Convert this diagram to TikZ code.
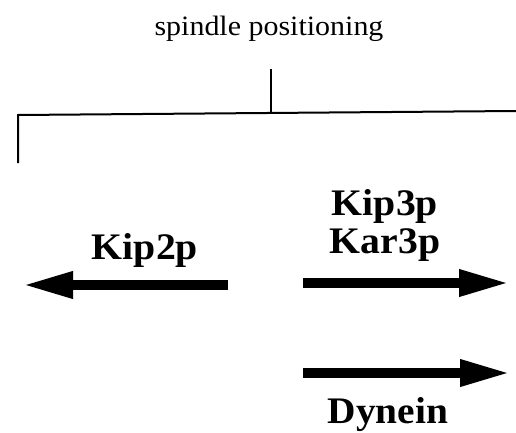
\documentclass[tikz,border=0pt]{standalone}
\usepackage{fontspec}
\setmainfont{Liberation Serif}
\usetikzlibrary{arrows.meta}
% slightly wide-set lettering used for all labels
\newcommand{\widetext}[2]{\scalebox{#1}[1]{#2}}
\begin{document}
\begin{tikzpicture}[x=1pt,y=-1pt,
  bracket/.style={line width=2pt},
  motorarrow/.style={line width=9.5pt,-{Triangle[length=50pt,width=25pt]}},
  motorlabel/.style={font=\fontsize{37.5}{40}\selectfont\bfseries,anchor=base,inner sep=0pt},
  toplabel/.style={font=\fontsize{28}{32}\selectfont,anchor=base,inner sep=0pt}]
  \useasboundingbox (0,0) rectangle (516,433);
  % heading and bracket
  \node[toplabel] (title) at (269,36) {\widetext{1.07}{spindle positioning}};
  \coordinate (stemtop) at (271,69);
  \coordinate (stemfoot) at (271,113);
  \coordinate (leftcorner) at (18,115);
  \coordinate (leftfoot) at (18,163);
  \coordinate (rightend) at (516,111);
  \draw[bracket] (stemtop) -- (stemfoot);
  \draw[bracket] (leftfoot) -- (leftcorner) -- (rightend);
  % motor directions
  \coordinate (kiptail) at (228,285);
  \coordinate (kiptip) at (23,285);
  \coordinate (kartail) at (303,283);
  \coordinate (kartip) at (509,283);
  \coordinate (dyntail) at (303,373);
  \coordinate (dyntip) at (510,373);
  \draw[motorarrow] (kiptail) -- (kiptip);
  \draw[motorarrow] (kartail) -- (kartip);
  \draw[motorarrow] (dyntail) -- (dyntip);
  \node[motorlabel] (kip2p) at (145,259) {\widetext{1.06}{Kip2p}};
  \node[motorlabel] (kip3p) at (385,215) {\widetext{1.06}{Kip3p}};
  \node[motorlabel] (kar3p) at (385,253) {\widetext{1.06}{Kar3p}};
  \node[motorlabel] (dynein) at (388,423) {\widetext{1.05}{Dynein}};
\end{tikzpicture}
\end{document}
